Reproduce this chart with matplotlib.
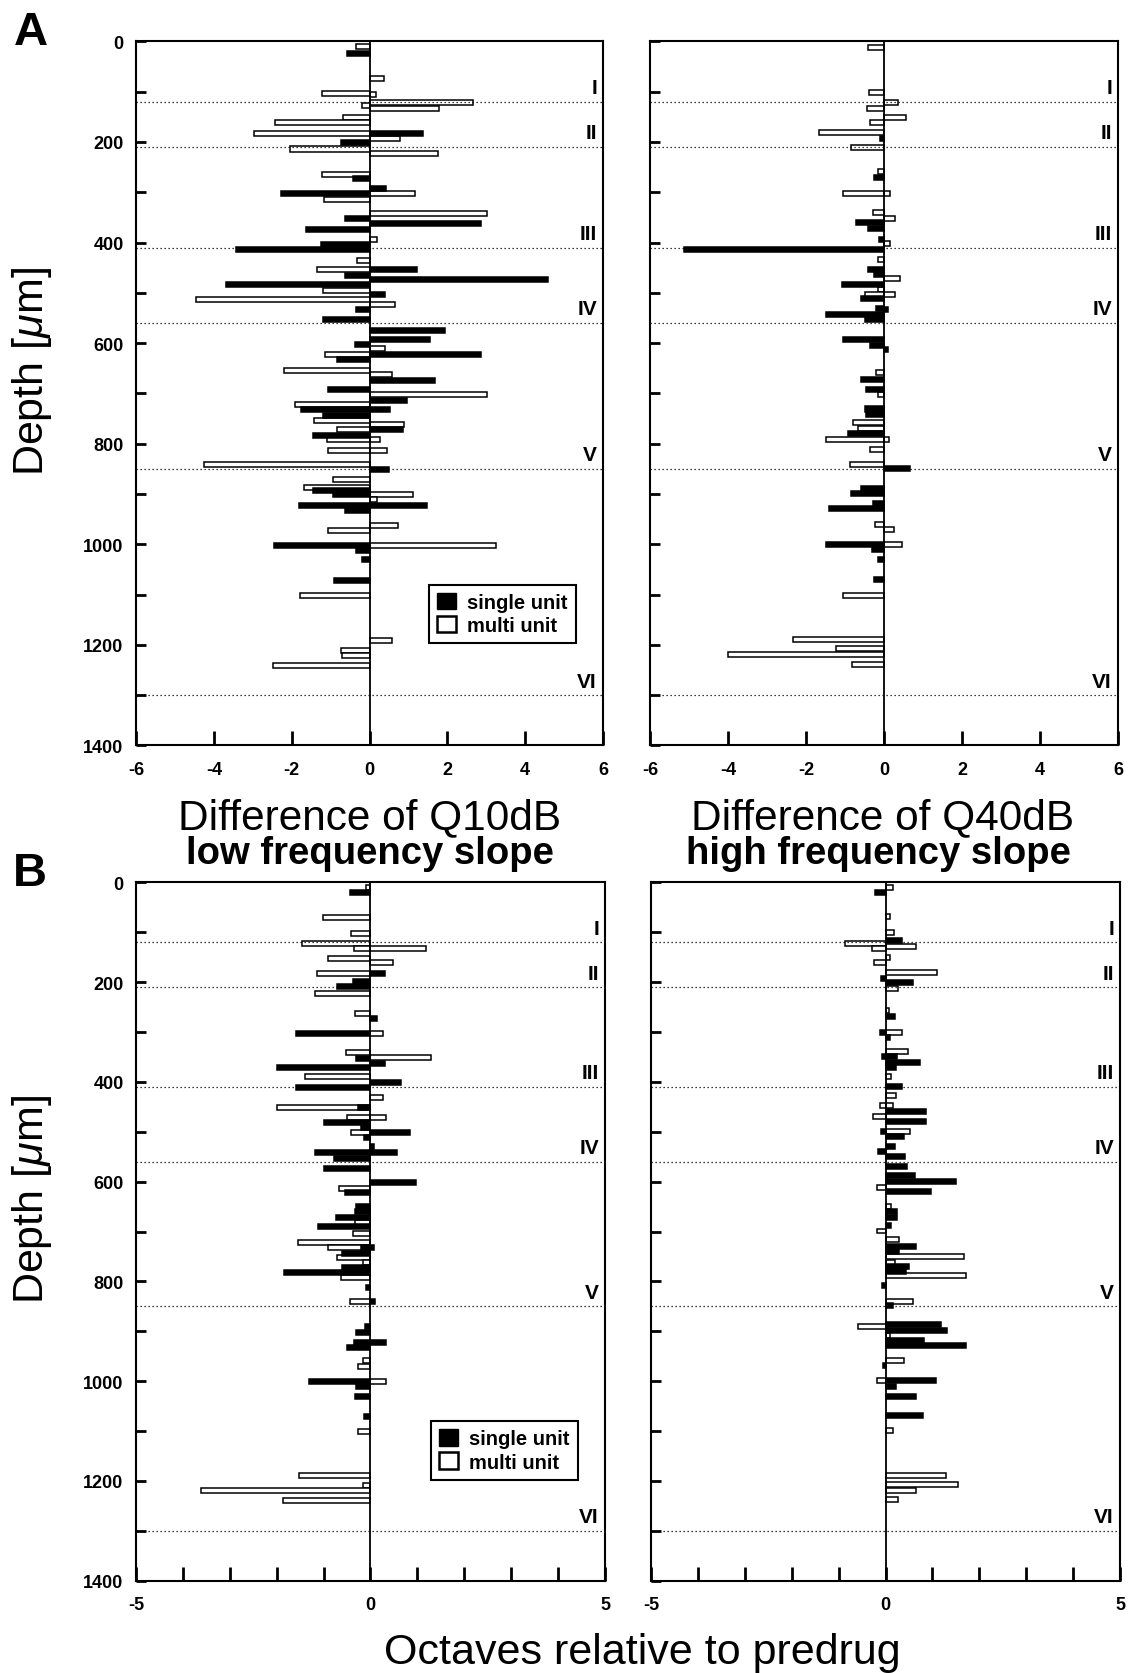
import matplotlib
matplotlib.use('Agg')
import matplotlib.pyplot as plt
import matplotlib.transforms as mtransforms
from matplotlib.patches import Patch

plt.rcParams['font.family'] = ['Liberation Sans', 'DejaVu Sans']
plt.rcParams['mathtext.fontset'] = 'custom'
plt.rcParams['mathtext.it'] = 'Liberation Sans:italic'
plt.rcParams['mathtext.rm'] = 'Liberation Sans'

# cortical layer borders (depth in um)
layer_depth = [120, 210, 410, 560, 850, 1300]
layer_names = ['I', 'II', 'III', 'IV', 'V', 'VI']

# ---- A, Q10dB (low frequency slope) ----
a_q10_single_depth = [24, 183, 201, 272, 293, 303, 353, 363, 374, 403, 414, 454, 465, 473, 484, 503,
                      534, 554, 574, 592, 603, 622, 633, 674, 693, 714, 732, 732, 743, 772, 783, 852,
                      893, 902, 922, 922, 932, 1002, 1013, 1031, 1072]
a_q10_single_val = [-0.57, 1.37, -0.72, -0.43, 0.43, -2.28, -0.62, 2.86, -1.63, -1.25, -3.43, 1.23, -0.63,
                    4.59, -3.70, 0.41, -0.34, -1.20, 1.95, 1.56, -0.36, 2.86, -0.84, 1.68, -1.07, 0.96,
                    -1.75, 0.53, -1.20, 0.86, -1.44, 0.50, -1.44, -0.94, -1.82, 1.47, -0.62, -2.45,
                    -0.34, -0.19, -0.91]
a_q10_multi_depth = [10, 74, 103, 106, 122, 128, 134, 151, 162, 184, 194, 214, 223, 264, 303, 315, 343,
                     393, 435, 454, 495, 513, 524, 611, 622, 654, 662, 703, 723, 754, 761, 772, 792, 792,
                     813, 813, 842, 872, 888, 902, 911, 963, 972, 1002, 1102, 1192, 1211, 1222, 1242]
a_q10_multi_val = [-0.34, 0.38, -1.22, 0.17, 2.66, -0.20, 1.79, -0.67, -2.43, -2.96, 0.79, -2.04, 1.77,
                   -1.22, 1.18, -1.16, 3.03, 0.19, -0.31, -1.34, -1.20, -4.46, 0.65, 0.41, -1.15, -2.19,
                   0.57, 3.02, -1.92, -1.42, 0.89, -0.84, -1.08, 0.26, -1.06, 0.46, -4.25, -0.94, -1.68,
                   1.11, 0.19, 0.72, -1.06, 3.24, -1.78, 0.57, -0.74, -0.70, -2.47]

# ---- A, Q40dB (high frequency slope) ----
a_q40_single_depth = [193, 270, 361, 373, 393, 413, 453, 463, 483, 511, 531, 533, 543, 554, 592, 604,
                      613, 672, 693, 731, 741, 779, 850, 889, 900, 918, 929, 1000, 1011, 1031, 1071]
a_q40_single_val = [-0.10, -0.25, -0.71, -0.40, -0.13, -5.12, -0.40, -0.25, -1.07, -0.59, -0.20, 0.10,
                    -1.48, -0.49, -1.05, -0.37, 0.10, -0.60, -0.47, -0.50, -0.45, -0.93, 0.66, -0.59,
                    -0.85, -0.28, -1.41, -1.48, -0.32, -0.16, -0.25]
a_q40_multi_depth = [12, 101, 121, 133, 151, 161, 182, 211, 259, 302, 302, 341, 352, 402, 433, 471, 493,
                     503, 503, 658, 703, 758, 770, 791, 791, 812, 841, 960, 970, 1000, 1101, 1190, 1208,
                     1220, 1240]
a_q40_multi_val = [-0.42, -0.38, 0.35, -0.44, 0.57, -0.35, -1.67, -0.85, -0.16, -1.05, 0.16, -0.28, 0.28,
                   0.15, -0.15, 0.40, -0.16, -0.50, 0.28, -0.20, -0.15, -0.79, -0.67, -1.48, 0.13,
                   -0.37, -0.88, -0.23, 0.25, 0.47, -1.05, -2.33, -1.24, -3.99, -0.83]

# ---- B, Q10dB ----
b_q10_single_depth = [21, 182, 198, 209, 272, 302, 354, 363, 371, 401, 411, 451, 481, 491, 501, 511,
                      530, 541, 541, 553, 573, 601, 621, 650, 660, 672, 690, 733, 733, 744, 772, 782,
                      812, 840, 891, 902, 922, 922, 932, 1000, 1011, 1031, 1071]
b_q10_single_val = [-0.44, 0.31, -0.38, -0.71, 0.13, -1.58, -0.30, 0.30, -2.00, 0.65, -1.58, -0.26,
                    -1.00, -0.20, 0.85, -0.14, 0.08, -1.19, 0.57, -0.77, -1.00, 0.97, -0.55, -0.30,
                    -0.33, -0.74, -1.11, -0.20, 0.07, -0.61, -0.61, -1.85, -0.10, 0.10, -0.11, -0.31,
                    -0.36, 0.34, -0.50, -1.31, -0.30, -0.33, -0.14]
b_q10_multi_depth = [11, 71, 102, 122, 132, 132, 152, 161, 182, 222, 263, 302, 342, 351, 390, 431, 451,
                     471, 471, 501, 613, 682, 704, 722, 733, 752, 762, 792, 840, 959, 971, 1000, 1101,
                     1190, 1209, 1220, 1240]
b_q10_multi_val = [-0.10, -1.02, -0.41, -1.46, 1.18, -0.36, -0.90, 0.47, -1.15, -1.19, -0.33, 0.27,
                   -0.53, 1.28, -1.39, 0.27, -2.00, -0.50, 0.33, -0.41, -0.68, -0.33, -0.38, -1.54,
                   -0.90, -0.72, -0.16, -0.63, -0.44, -0.16, -0.26, 0.34, -0.26, -1.52, -0.16, -3.62,
                   -1.86]

# ---- B, Q40dB ----
b_q40_single_depth = [20, 116, 192, 200, 269, 301, 311, 350, 350, 361, 371, 410, 459, 479, 499, 510,
                      530, 539, 550, 570, 588, 600, 620, 660, 672, 688, 730, 740, 771, 780, 809, 849,
                      887, 899, 919, 929, 969, 999, 1011, 1031, 1069]
b_q40_single_val = [-0.23, 0.35, -0.09, 0.59, 0.21, -0.11, 0.09, -0.08, 0.25, 0.73, 0.23, 0.36, 0.86,
                    0.87, -0.09, 0.40, 0.21, -0.16, 0.42, 0.46, 0.62, 1.51, 0.96, 0.25, 0.25, 0.11,
                    0.66, 0.29, 0.50, 0.43, -0.08, 0.15, 1.19, 1.31, 0.83, 1.71, -0.05, 1.07, 0.22,
                    0.66, 0.80]
b_q40_multi_depth = [10, 69, 100, 122, 129, 132, 150, 160, 180, 212, 257, 301, 339, 390, 428, 448, 448,
                     470, 499, 612, 650, 699, 717, 750, 762, 789, 840, 891, 909, 959, 999, 1099, 1190,
                     1208, 1220, 1238]
b_q40_multi_val = [0.15, 0.09, 0.19, -0.87, 0.66, -0.28, 0.09, -0.25, 1.10, 0.26, 0.07, 0.36, 0.48,
                   0.11, 0.23, -0.11, 0.15, -0.26, 0.52, -0.18, 0.12, -0.18, 0.28, 1.67, 0.21, 1.71,
                   0.59, -0.58, 0.09, 0.39, -0.18, 0.16, 1.30, 1.54, 0.66, 0.26]

a_xticks = [-6, -4, -2, 0, 2, 4, 6]
a_xticklabels = ['-6', '-4', '-2', '0', '2', '4', '6']
b_xticks = [-5, -4, -3, -2, -1, 0, 1, 2, 3, 4, 5]
b_xticklabels = ['-5', '', '', '', '', '0', '', '', '', '', '5']
depth_ticks = list(range(0, 1401, 100))
depth_ticklabels = [str(d) if d % 200 == 0 else '' for d in depth_ticks]

tick_font = ['Liberation Sans Narrow', 'Liberation Sans', 'DejaVu Sans']


def draw_panel(ax, s_depth, s_val, m_depth, m_val, xticks, xticklabels, show_depth, legend):
    ax.barh(m_depth, m_val, height=10, color='white', edgecolor='black', linewidth=1.1, zorder=3)
    ax.barh(s_depth, s_val, height=10, color='black', edgecolor='black', linewidth=1.1, zorder=4)
    ax.axvline(0, color='black', lw=1.3, zorder=5)

    trans = mtransforms.blended_transform_factory(ax.transAxes, ax.transData)
    for d, name in zip(layer_depth, layer_names):
        ax.axhline(d, color='black', lw=0.9, ls=(0, (1, 2.2)), zorder=3.5)
        ax.text(0.987, d - 9, name, transform=trans, ha='right', va='bottom',
                fontsize=15, fontweight='bold', fontfamily=tick_font)

    ax.set_xlim(xticks[0], xticks[-1])
    ax.set_ylim(1400, 0)
    ax.set_xticks(xticks)
    ax.set_xticklabels(xticklabels, fontweight='bold', fontsize=13, fontfamily=tick_font)
    ax.set_yticks(depth_ticks)
    if show_depth:
        ax.set_yticklabels(depth_ticklabels, fontweight='bold', fontsize=13, fontfamily=tick_font)
    else:
        ax.set_yticklabels([])
    ax.tick_params(axis='x', direction='in', length=10, width=2, pad=11)
    ax.tick_params(axis='y', direction='in', length=7, width=2, pad=9)
    for sp in ax.spines.values():
        sp.set_linewidth(1.5)

    if legend:
        handles = [Patch(facecolor='black', edgecolor='black', label='single unit'),
                   Patch(facecolor='white', edgecolor='black', linewidth=1.8, label='multi unit')]
        leg = ax.legend(handles=handles, loc='upper right', bbox_to_anchor=(0.942, 0.228),
                        fancybox=False, edgecolor='black', framealpha=1, borderpad=0.4,
                        handlelength=0.95, handleheight=0.85, handletextpad=0.55, labelspacing=0.2,
                        borderaxespad=0, prop={'weight': 'bold', 'size': 14.5})
        leg.get_frame().set_linewidth(1.5)


fig = plt.figure(figsize=(11.28, 16.74), dpi=100)
W, H = 1128, 1674


def add_axes(x0, x1, y0, y1):
    return fig.add_axes([x0 / W, 1 - y1 / H, (x1 - x0) / W, (y1 - y0) / H])


ax1 = add_axes(136, 603, 42.4, 746.4)
ax2 = add_axes(650, 1118, 42.4, 746.4)
ax3 = add_axes(136, 605, 883.4, 1581.6)
ax4 = add_axes(651, 1120, 883.4, 1581.6)

draw_panel(ax1, a_q10_single_depth, a_q10_single_val, a_q10_multi_depth, a_q10_multi_val,
           a_xticks, a_xticklabels, True, True)
draw_panel(ax2, a_q40_single_depth, a_q40_single_val, a_q40_multi_depth, a_q40_multi_val,
           a_xticks, a_xticklabels, False, False)
draw_panel(ax3, b_q10_single_depth, b_q10_single_val, b_q10_multi_depth, b_q10_multi_val,
           b_xticks, b_xticklabels, True, True)
draw_panel(ax4, b_q40_single_depth, b_q40_single_val, b_q40_multi_depth, b_q40_multi_val,
           b_xticks, b_xticklabels, False, False)

# panel letters
fig.text(14 / W, 1 - 45 / H, 'A', fontsize=34, fontweight='bold', va='baseline')
fig.text(13 / W, 1 - 886 / H, 'B', fontsize=34, fontweight='bold', va='baseline')

# axis labels
for yc in (372, 1200):
    fig.text(32 / W, 1 - yc / H, 'Depth [$\\mu$m]', rotation=90, ha='center', va='center', fontsize=31)

fig.text(369.5 / W, 1 - 829 / H, 'Difference of Q10dB', ha='center', va='baseline', fontsize=30.5)
fig.text(369.5 / W, 1 - 864 / H, 'low frequency slope', ha='center', va='baseline', fontsize=27.5,
         fontweight='bold')
fig.text(883 / W, 1 - 829 / H, 'Difference of Q40dB', ha='center', va='baseline', fontsize=30.5)
fig.text(878 / W, 1 - 864 / H, 'high frequency slope', ha='center', va='baseline', fontsize=27.5,
         fontweight='bold')
fig.text(642 / W, 1 - 1664 / H, 'Octaves relative to predrug', ha='center', va='baseline', fontsize=31)

fig.savefig('out.png', dpi=100)
